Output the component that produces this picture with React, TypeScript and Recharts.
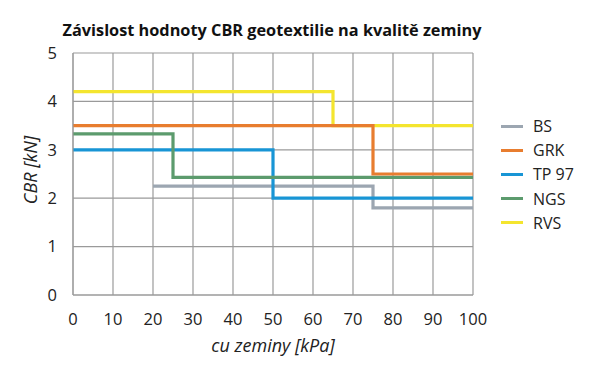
import React from "react";
import { LineChart, Line, XAxis, YAxis, CartesianGrid } from "recharts";

const xTicks = [0, 10, 20, 30, 40, 50, 60, 70, 80, 90, 100];
const yTicks = [0, 1, 2, 3, 4, 5];

const seriesNames = ["BS", "GRK", "TP 97", "NGS", "RVS"];
const seriesColors = ["#9CA6B1", "#E87D2F", "#1895D5", "#5C9B6D", "#F4E52E"];

const bsX = [20, 75, 100];
const bsY = [2.25, 1.8, 1.8];
const grkX = [0, 75, 100];
const grkY = [3.5, 2.5, 2.5];
const tpX = [0, 50, 100];
const tpY = [3.0, 2.0, 2.0];
const ngsX = [0, 25, 100];
const ngsY = [3.33, 2.43, 2.43];
const rvsX = [0, 65, 100];
const rvsY = [4.2, 3.5, 3.5];

const toPts = (xs: number[], ys: number[]) => xs.map((x, i) => ({ x, y: ys[i] }));

const series = [
  { name: seriesNames[0], color: seriesColors[0], data: toPts(bsX, bsY) },
  { name: seriesNames[1], color: seriesColors[1], data: toPts(grkX, grkY) },
  { name: seriesNames[2], color: seriesColors[2], data: toPts(tpX, tpY) },
  { name: seriesNames[3], color: seriesColors[3], data: toPts(ngsX, ngsY) },
  { name: seriesNames[4], color: seriesColors[4], data: toPts(rvsX, rvsY) },
];

const drawOrder = [4, 0, 2, 3, 1];

const FONT = "'Open Sans', sans-serif";

export default function App() {
  return (
    <div style={{ position: "absolute", left: 0, top: 0, width: 600, height: 375, background: "#fff" }}>
      <div
        style={{
          position: "absolute",
          left: 0,
          top: 19,
          width: 544,
          textAlign: "center",
          fontFamily: FONT,
          fontWeight: 700,
          fontSize: 16.3,
          color: "#111",
          whiteSpace: "nowrap",
        }}
      >
        Závislost hodnoty CBR geotextilie na kvalitě zeminy
      </div>
      <LineChart width={600} height={375} margin={{ top: 53, right: 127, bottom: 28, left: 33 }}>
        <CartesianGrid stroke="#9a9a9a" strokeWidth={1.2} />
        <XAxis
          type="number"
          dataKey="x"
          domain={[0, 100]}
          ticks={xTicks}
          interval={0}
          allowDuplicatedCategory={false}
          axisLine={{ stroke: "#9a9a9a" }}
          tickLine={false}
          tickSize={0}
          tickMargin={18}
          height={52}
          tick={{ fontFamily: FONT, fontSize: 16.5, fill: "#222" }}
          label={{
            value: "cu zeminy [kPa]",
            position: "insideBottom",
            offset: -5,
            style: { fontFamily: FONT, fontSize: 18, fontStyle: "italic", fill: "#222" },
          }}
        />
        <YAxis
          type="number"
          domain={[0, 5]}
          ticks={yTicks}
          interval={0}
          width={40}
          axisLine={{ stroke: "#9a9a9a" }}
          tickLine={false}
          tickSize={0}
          tickMargin={16}
          tick={{ fontFamily: FONT, fontSize: 16.5, fill: "#222" }}
          label={{
            value: "CBR [kN]",
            angle: -90,
            position: "center",
            dx: -22,
            dy: -4,
            style: { fontFamily: FONT, fontSize: 18, fontStyle: "italic", fill: "#222", textAnchor: "middle" },
          }}
        />
        {drawOrder.map((i) => {
          const s = series[i];
          return (
            <Line
              key={s.name}
              name={s.name}
              data={s.data}
              dataKey="y"
              type="stepAfter"
              stroke={s.color}
              strokeWidth={3.2}
              dot={false}
              activeDot={false}
              isAnimationActive={false}
            />
          );
        })}
      </LineChart>
      <div
        style={{
          position: "absolute",
          left: 501,
          top: 114,
          fontFamily: FONT,
          fontSize: 16,
          color: "#222",
        }}
      >
        {series.map((s) => (
          <div key={s.name} style={{ display: "flex", alignItems: "center", height: 24.2, whiteSpace: "nowrap" }}>
            <div style={{ width: 22, height: 3, background: s.color, marginRight: 10 }} />
            <span>{s.name}</span>
          </div>
        ))}
      </div>
    </div>
  );
}
